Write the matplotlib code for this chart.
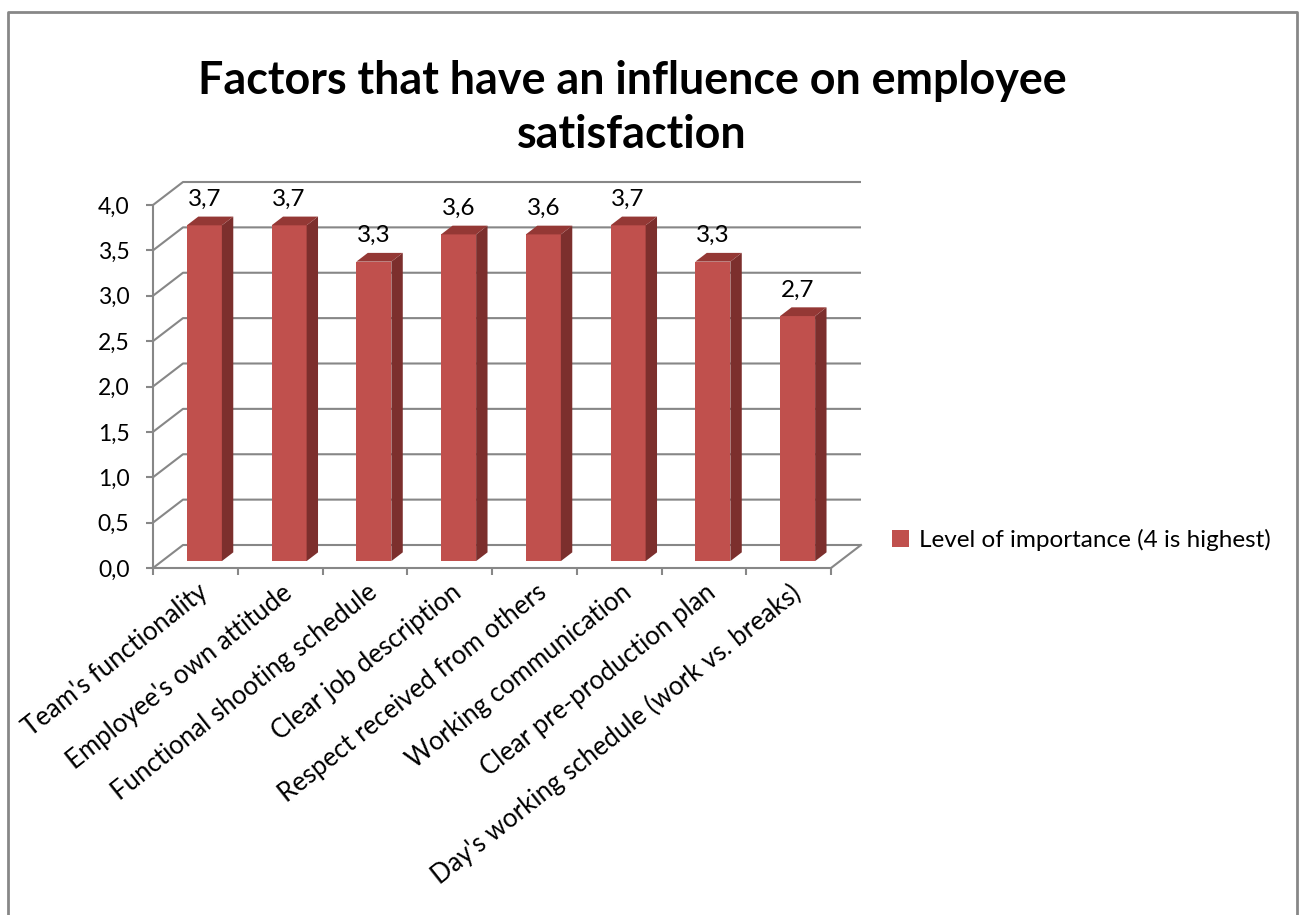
import matplotlib.pyplot as plt
from matplotlib.patches import Polygon
from matplotlib.lines import Line2D
from matplotlib.transforms import ScaledTranslation
import numpy as np

# data
categories = ["Team's functionality", "Employee's own attitude",
              "Functional shooting schedule", "Clear job description",
              "Respect received from others", "Working communication",
              "Clear pre-production plan", "Day's working schedule (work vs. breaks)"]
values = [3.7, 3.7, 3.3, 3.6, 3.6, 3.7, 3.3, 2.7]
y_ticks = [0.0, 0.5, 1.0, 1.5, 2.0, 2.5, 3.0, 3.5, 4.0]
series_name = 'Level of importance (4 is highest)'
title = 'Factors that have an influence on employee\nsatisfaction'

plt.rcParams['font.family'] = ['Lato', 'DejaVu Sans']

W, H = 1301, 915
fig = plt.figure(figsize=(W / 100, H / 100), dpi=100)

# front plane in pixels: x 0..8 -> 153..831, y 0..4 -> 568..205 (from top)
ux, uy = 84.75, 90.75
x0px, y0px = 153, H - 568
xa, xb, ya, yb = -0.6, 8.9, -0.4, 4.6
ax = fig.add_axes([(x0px + xa * ux) / W, (y0px + ya * uy) / H,
                   (xb - xa) * ux / W, (yb - ya) * uy / H])
ax.set_xlim(xa, xb)
ax.set_ylim(ya, yb)

gray = '#878787'
front_c, side_c, top_c = '#C0504D', '#7C2F2D', '#943835'

# depth of the 3d box, and where the bars sit in it
DX, DY = 30 / ux, 23 / uy
f0, fd = 0.3, 0.38
bw = 35 / ux
n = len(categories)
xc = np.arange(n) + 0.5

# walls
for v in y_ticks:
    ax.plot([0, DX, n + DX], [v, v + DY, v + DY], color=gray, lw=1.5, zorder=1,
            solid_capstyle='butt')
ax.plot([n, n + DX], [0, DY], color=gray, lw=1.5, zorder=1)

# bars (front faces, then side and top)
bx = xc + f0 * DX
bars = ax.bar(bx, values, width=bw, bottom=f0 * DY, color=front_c, zorder=3,
              label=series_name)
for x, v in zip(bx, values):
    r = x + bw / 2
    l = x - bw / 2
    t = f0 * DY + v
    b = f0 * DY
    ax.add_patch(Polygon([[r, b], [r + fd * DX, b + fd * DY],
                          [r + fd * DX, t + fd * DY], [r, t]],
                         closed=True, fc=side_c, ec='none', zorder=3))
    ax.add_patch(Polygon([[l, t], [r, t], [r + fd * DX, t + fd * DY],
                          [l + fd * DX, t + fd * DY]],
                         closed=True, fc=top_c, ec='none', zorder=3))
    ax.annotate(f'{v:.1f}'.replace('.', ','), (x, t + fd * DY),
                xytext=(0, 5), textcoords='offset points', ha='center',
                va='bottom', fontsize=17.5, zorder=4)

# axes
for s in ['top', 'right']:
    ax.spines[s].set_visible(False)
ax.spines['left'].set_position(('data', 0))
ax.spines['bottom'].set_position(('data', 0))
ax.spines['left'].set_bounds(0, 4)
ax.spines['bottom'].set_bounds(0, n)
for s in ['left', 'bottom']:
    ax.spines[s].set_color(gray)
    ax.spines[s].set_linewidth(1.5)

ax.set_yticks(y_ticks)
ax.set_yticklabels([f'{v:.1f}'.replace('.', ',') for v in y_ticks])
ax.tick_params(axis='y', length=5, width=1.5, color=gray, labelsize=16.5, pad=12)
ax.set_xticks(np.arange(n + 1))
ax.set_xticklabels([])
ax.tick_params(axis='x', which='major', length=5, width=1.5, color=gray)
ax.set_xticks(xc, minor=True)
ax.set_xticklabels(categories, minor=True, rotation=38.5, ha='right', fontsize=18.5)
ax.tick_params(axis='x', which='minor', length=0, pad=10)
for lab in ax.get_xticklabels(minor=True):
    lab.set_transform(lab.get_transform() + ScaledTranslation(0.17, 0.02, fig.dpi_scale_trans))

fig.legend(handles=[bars], loc='center left',
           bbox_to_anchor=(870 / W, 1 - 540 / H), frameon=False, fontsize=17.5,
           handlelength=0.7, handleheight=0.7, handletextpad=0.4)

fig.text(632 / W, 1 - 108 / H, title, ha='center', va='center', fontsize=32.3,
         fontweight='bold', linespacing=1.38)

# outer frame
fig.add_artist(Line2D([8 / W, 8 / W, 1297 / W, 1297 / W], [0, 1 - 12 / H, 1 - 12 / H, 0],
                      color=gray, lw=2))

fig.savefig('out.png', dpi=100)
